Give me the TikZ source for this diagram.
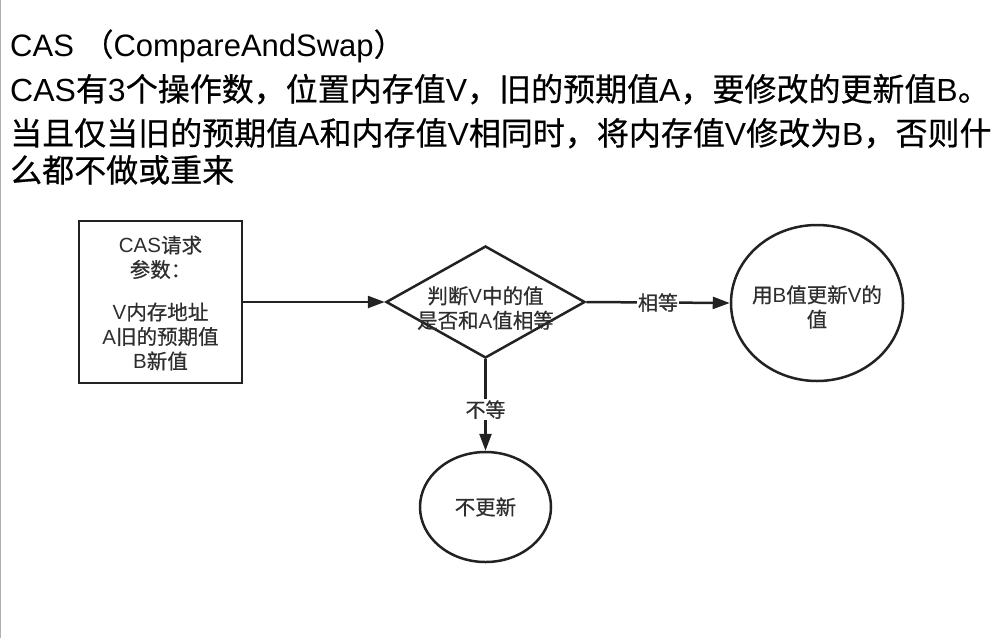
\documentclass[tikz,border=0pt]{standalone}
\usepackage{fontspec}
\setmainfont{Liberation Sans}
\newfontfamily\cjk{Noto Sans CJK SC}[FakeBold=0.6]
\usetikzlibrary{arrows.meta,shapes.geometric}
\definecolor{ink}{HTML}{222222}
\definecolor{txt}{HTML}{2E2E2E}
\definecolor{edge}{HTML}{A9B1BA}
\begin{document}
\begin{tikzpicture}[x=1pt,y=-1pt,
  shapeline/.style={draw=ink,line width=2.5pt},
  lbl/.style={font=\fontsize{20.5}{24.5}\selectfont,text=txt,align=center},
  conn/.style={draw=ink,line width=2.5pt,-{Triangle[length=17pt,width=12pt]}},
  edgelbl/.style={fill=white,inner sep=1pt,font=\fontsize{20}{24}\selectfont,text=txt},
  headline/.style={anchor=base west,inner sep=0pt,font=\fontsize{32}{38}\selectfont}]
\useasboundingbox (0,0) rectangle (1003,638);
\draw[edge,line width=1.2pt] (0.8,0) -- (0.8,638);
% heading text
\node[headline,font=\fontsize{31}{36}\selectfont] (t1) at (10,56) {CAS {\cjk （}CompareAndSwap{\cjk ）}};
\node[headline] (t2) at (10,101) {CAS{\cjk 有}3{\cjk 个操作数，位置内存值}V{\cjk ，旧的预期值}A{\cjk ，要修改的更新值}B{\cjk 。}};
\node[headline] (t3) at (10,145) {{\cjk 当且仅当旧的预期值}A{\cjk 和内存值}V{\cjk 相同时，将内存值}V{\cjk 修改为}B{\cjk ，否则什}};
\node[headline] (t4) at (10,182) {{\cjk 么都不做或重来}};
% diagram
\node[shapeline,rectangle,minimum width=163pt,minimum height=162pt,inner sep=0pt] (req) at (160.5,302) {};
\node[lbl] (reqtxt) at (160.5,303) {CAS{\cjk 请求}\\{\cjk 参数：}\\[18pt]V{\cjk 内存地址}\\A{\cjk 旧的预期值}\\B{\cjk 新值}};
\node[shapeline,diamond,minimum width=199pt,minimum height=112pt,inner sep=0pt] (cmp) at (485.5,302) {};
\node[lbl] (cmptxt) at (485.5,308) {{\cjk 判断}V{\cjk 中的值}\\{\cjk 是否和}A{\cjk 值相等}};
\node[shapeline,ellipse,minimum width=172pt,minimum height=156pt,inner sep=0pt] (upd) at (817,303) {};
\node[lbl] (updtxt) at (817,307) {{\cjk 用}B{\cjk 值更新}V{\cjk 的}\\{\cjk 值}};
\node[shapeline,ellipse,minimum width=131pt,minimum height=110pt,inner sep=0pt] (no) at (485.5,507) {};
\node[lbl] (notxt) at (485.5,507) {{\cjk 不更新}};
\draw[conn] (req.east) -- (cmp.west);
\draw[conn] (cmp.east) -- node[edgelbl,pos=0.5] {{\cjk 相等}} (upd.west);
\draw[conn] (cmp.south) -- node[edgelbl,pos=0.55] {{\cjk 不等}} (no.north);
\end{tikzpicture}
\end{document}
